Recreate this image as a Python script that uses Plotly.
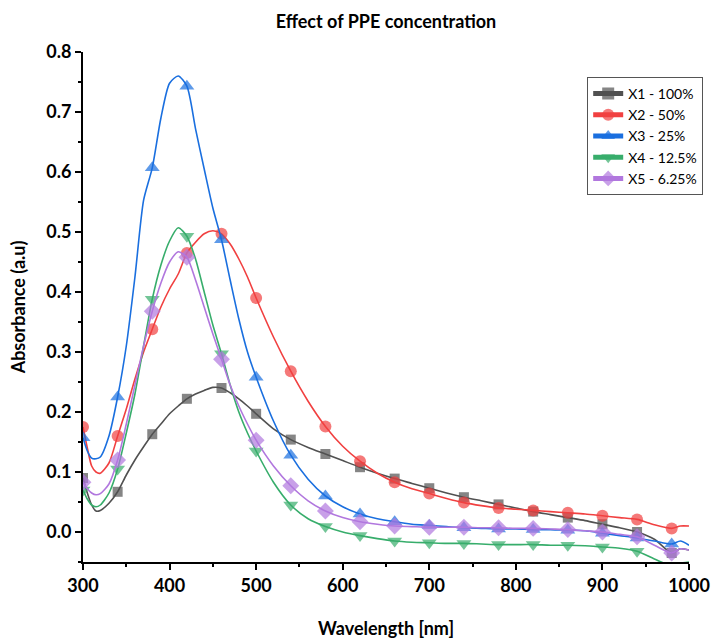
import plotly.graph_objects as go

wavelength = [300, 305, 310, 315, 320, 330, 340, 350, 360, 370, 380, 390, 400, 410, 420, 430, 440, 450,
              460, 470, 480, 490, 500, 520, 540, 560, 580, 600, 620, 640, 660, 680, 700, 720, 740, 760,
              780, 800, 820, 840, 860, 880, 900, 920, 940, 960, 980, 990, 1000]

x1_100 = [0.090, 0.065, 0.045, 0.035, 0.036, 0.048, 0.067, 0.095, 0.120, 0.142, 0.163, 0.180, 0.197, 0.210,
          0.222, 0.230, 0.236, 0.241, 0.240, 0.232, 0.222, 0.210, 0.197, 0.172, 0.154, 0.141, 0.130, 0.119,
          0.108, 0.098, 0.089, 0.081, 0.073, 0.065, 0.058, 0.052, 0.046, 0.040, 0.034, 0.029, 0.024, 0.019,
          0.013, 0.007, 0.000, -0.012, -0.035, -0.028, -0.030]
x2_50 = [0.175, 0.140, 0.110, 0.100, 0.098, 0.115, 0.160, 0.205, 0.255, 0.300, 0.338, 0.375, 0.405, 0.430,
         0.465, 0.483, 0.497, 0.502, 0.497, 0.480, 0.455, 0.425, 0.390, 0.325, 0.268, 0.218, 0.176, 0.143,
         0.118, 0.098, 0.083, 0.072, 0.064, 0.056, 0.049, 0.044, 0.040, 0.038, 0.036, 0.034, 0.032, 0.030,
         0.027, 0.024, 0.021, 0.012, 0.006, 0.010, 0.010]
x3_25 = [0.157, 0.135, 0.123, 0.122, 0.125, 0.160, 0.225, 0.310, 0.425, 0.553, 0.607, 0.690, 0.748, 0.760,
         0.743, 0.672, 0.605, 0.540, 0.487, 0.420, 0.355, 0.300, 0.258, 0.185, 0.128, 0.088, 0.060, 0.042,
         0.030, 0.022, 0.017, 0.013, 0.011, 0.009, 0.007, 0.006, 0.005, 0.005, 0.004, 0.004, 0.003, 0.002,
         -0.002, -0.006, -0.010, -0.015, -0.020, -0.015, -0.022]
x4_125 = [0.070, 0.055, 0.045, 0.042, 0.045, 0.065, 0.105, 0.165, 0.230, 0.310, 0.388, 0.445, 0.485, 0.507,
          0.493, 0.455, 0.400, 0.345, 0.297, 0.245, 0.200, 0.165, 0.135, 0.083, 0.045, 0.022, 0.009, 0.000,
          -0.006, -0.011, -0.015, -0.017, -0.018, -0.019, -0.019, -0.020, -0.021, -0.021, -0.021, -0.022,
          -0.022, -0.023, -0.025, -0.027, -0.032, -0.045, -0.056, -0.052, -0.050]
x5_625 = [0.083, 0.072, 0.065, 0.062, 0.064, 0.080, 0.120, 0.180, 0.245, 0.310, 0.368, 0.415, 0.450, 0.467,
          0.458, 0.420, 0.375, 0.330, 0.288, 0.245, 0.210, 0.180, 0.153, 0.110, 0.077, 0.052, 0.035, 0.024,
          0.017, 0.013, 0.010, 0.009, 0.008, 0.008, 0.008, 0.007, 0.007, 0.006, 0.006, 0.005, 0.004, 0.002,
          0.000, -0.004, -0.008, -0.022, -0.035, -0.028, -0.030]

marker_wavelengths = list(range(300, 1000, 40))

series_names = ["X1 - 100%", "X2 - 50%", "X3 - 25%", "X4 - 12.5%", "X5 - 6.25%"]
series_values = [x1_100, x2_50, x3_25, x4_125, x5_625]
colors = ["#515151", "#F14040", "#1A6FDF", "#37AD6B", "#B177DE"]
symbols = ["square", "circle", "triangle-up", "triangle-down", "diamond"]
msizes = [10, 12, 13, 13, 13]

FONT = "Lato, 'Open Sans', sans-serif"

fig = go.Figure()
for name, vals, col, sym, ms in zip(series_names, series_values, colors, symbols, msizes):
    sizes = [ms if w in marker_wavelengths else 0 for w in wavelength]
    fig.add_trace(go.Scatter(
        x=wavelength, y=vals, name=name, mode="lines+markers",
        line=dict(color=col, width=1.6, shape="spline", smoothing=0.7),
        marker=dict(symbol=sym, size=sizes, color=col, line=dict(width=0)),
        cliponaxis=True,
    ))

fig.update_layout(
    width=711, height=639,
    margin=dict(l=83, r=22, t=52, b=77, autoexpand=False),
    paper_bgcolor="white", plot_bgcolor="white",
    font=dict(family=FONT, color="black"),
    title=dict(text="<b>Effect of PPE concentration</b>", x=0.5, xref="paper", xanchor="center",
               y=1 - 22 / 639, yanchor="middle", font=dict(size=18, family=FONT)),
    legend=dict(x=0.832, y=0.951, xanchor="left", yanchor="top",
                bordercolor="#555555", borderwidth=1, bgcolor="white",
                font=dict(size=14, family=FONT), itemsizing="constant",
                tracegroupgap=0, itemwidth=30),
    showlegend=True,
)
fig.update_xaxes(
    range=[300, 1000], dtick=100, tick0=300, automargin=False,
    showline=True, linecolor="black", linewidth=2, mirror=False,
    ticks="outside", ticklen=6, tickwidth=2, tickcolor="black",
    minor=dict(dtick=50, ticks="outside", ticklen=3, tickwidth=1.5, tickcolor="black"),
    showgrid=False, zeroline=False,
    tickfont=dict(size=18, family=FONT, weight="bold"),
    title=dict(text="<b>Wavelength [nm]</b>", font=dict(size=18, family=FONT), standoff=30),
)
fig.update_yaxes(
    range=[-0.05, 0.8], dtick=0.1, tick0=0, tickformat=".1f", automargin=False,
    showline=True, linecolor="black", linewidth=2, mirror=False,
    ticks="outside", ticklen=6, tickwidth=2, tickcolor="black",
    minor=dict(dtick=0.05, ticks="outside", ticklen=3, tickwidth=1.5, tickcolor="black"),
    showgrid=False, zeroline=False,
    tickfont=dict(size=18, family=FONT, weight="bold"),
    title=dict(text="<b>Absorbance (a.u)</b>", font=dict(size=18, family=FONT), standoff=16),
)

fig.write_html("out.html")
